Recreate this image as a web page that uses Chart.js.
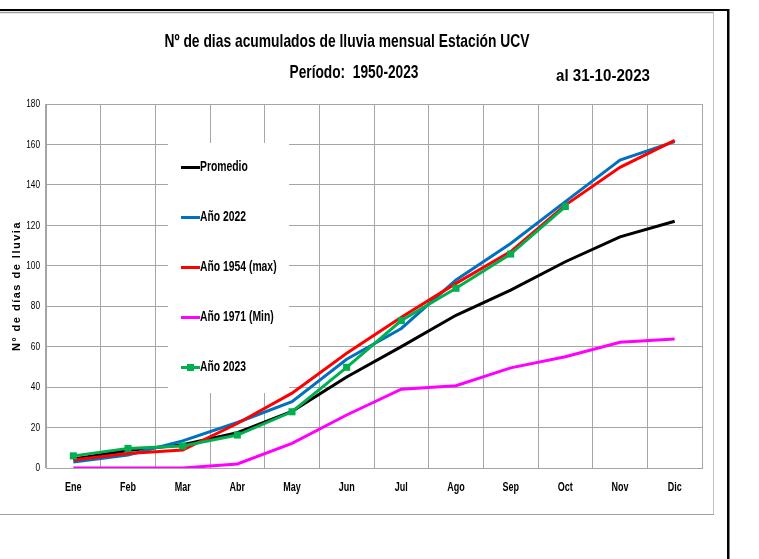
<!DOCTYPE html>
<html>
<head>
<meta charset="utf-8">
<title>Nº de dias acumulados de lluvia mensual Estación UCV</title>
<script src="https://cdn.jsdelivr.net/npm/chart.js@4.4.0/dist/chart.umd.min.js"></script>
<style>
    html, body { margin: 0; padding: 0; background: #fff; }
    #wrap { position: relative; width: 759px; height: 559px; }
</style>
</head>
<body>
<div id="wrap"><canvas id="rainChart" width="759" height="559"></canvas></div>
<script>
// Data
const months = ['Ene', 'Feb', 'Mar', 'Abr', 'May', 'Jun', 'Jul', 'Ago', 'Sep', 'Oct', 'Nov', 'Dic'];
const promedio = [4.5, 8.6, 11.5, 17.5, 28, 45, 60, 75.5, 88, 102, 114.3, 122];
const anio2022 = [3, 6.4, 13.4, 22.5, 32.8, 53.8, 69, 93, 111, 131.7, 152.3, 161.4];
const anio1954 = [4, 7.2, 8.9, 22, 37, 56.7, 74.5, 91.3, 107, 130, 148.7, 162];
const anio1971 = [0, 0, 0, 2, 12.2, 26.2, 39, 40.7, 49.5, 55, 62.2, 63.8];
const anio2023 = [6, 9.7, 10.9, 16.3, 27.8, 49.8, 72.9, 88.9, 105.8, 129.3];
const yTicks = { min: 0, max: 180, step: 20 };

const SANS = "'Liberation Sans', Arial, sans-serif";
const GRID = '#a6a6a6';

/**
 * Draws text squeezed horizontally (Calibri-like look).
 * If width is given the text is fitted to it, otherwise squeeze is used.
 */
function drawNarrow(ctx, text, x, y, font, align, width, squeeze = 0.75) {
    ctx.save();
    ctx.font = font;
    const measured = ctx.measureText(text).width;
    const s = width ? width / measured : squeeze;
    ctx.translate(x, y);
    ctx.scale(s, 1);
    ctx.textAlign = align;
    ctx.textBaseline = 'middle';
    ctx.fillText(text, 0, 0);
    ctx.restore();
}

/**
 * Draws frame lines, titles and axis labels.
 */
const framePlugin = {
    id: 'frame',
    beforeDraw(chart) {
        const ctx = chart.ctx;
        ctx.save();
        ctx.fillStyle = '#fff';
        ctx.fillRect(0, 0, chart.width, chart.height);
        // gray chart border
        ctx.strokeStyle = '#a0a0a0';
        ctx.lineWidth = 1.5;
        ctx.beginPath();
        ctx.moveTo(0, 12.5);
        ctx.lineTo(713.5, 12.5);
        ctx.stroke();
        ctx.lineWidth = 1;
        ctx.strokeStyle = '#c0c0c0';
        ctx.beginPath();
        ctx.moveTo(713.5, 12);
        ctx.lineTo(713.5, 514.5);
        ctx.stroke();
        ctx.strokeStyle = '#a0a0a0';
        ctx.beginPath();
        ctx.moveTo(0, 514.5);
        ctx.lineTo(714, 514.5);
        ctx.stroke();
        // black cell borders
        ctx.fillStyle = '#000';
        ctx.fillRect(0, 9, 729, 2);
        ctx.fillRect(727, 9, 2.5, chart.height - 9);
        ctx.restore();
    },
    afterDraw(chart) {
        const ctx = chart.ctx;
        ctx.save();
        ctx.fillStyle = '#000';
        drawNarrow(ctx, 'Nº de dias acumulados de lluvia mensual Estación UCV', 347, 42, 'bold 19px ' + SANS, 'center', 365);
        drawNarrow(ctx, 'Período:  1950-2023', 354, 73, 'bold 19px ' + SANS, 'center', 129);
        drawNarrow(ctx, 'al 31-10-2023', 556, 77, 'bold 16px ' + SANS, 'left', 94);

        // tick labels, placed by the chart scales
        const xs = chart.scales.x;
        const ys = chart.scales.y;
        xs.ticks.forEach((t, i) => {
            drawNarrow(ctx, xs.getLabelForValue(t.value), xs.getPixelForTick(i), 488, 'bold 12px ' + SANS, 'center', 0, 0.75);
        });
        ys.ticks.forEach((t, i) => {
            drawNarrow(ctx, String(t.value), 40, ys.getPixelForTick(i), '11.5px ' + SANS, 'right', 0, 0.72);
        });

        // rotated y axis title with wide letter spacing
        ctx.translate(17, 286);
        ctx.rotate(-Math.PI / 2);
        ctx.textAlign = 'center';
        ctx.textBaseline = 'middle';
        ctx.font = 'bold 11px ' + SANS;
        ctx.letterSpacing = '1.5px';
        ctx.fillText('Nº de días de lluvia', 0, 0);
        ctx.restore();
    }
};

/**
 * Draws the legend as a white box inside the plot area.
 */
const insideLegendPlugin = {
    id: 'insideLegend',
    beforeDatasetsDraw(chart) {
        const ctx = chart.ctx;
        ctx.save();
        ctx.fillStyle = '#fff';
        ctx.fillRect(168, 143, 121, 250);
        chart.data.datasets.forEach((ds, i) => {
            const y = 167.5 + i * 50;
            ctx.strokeStyle = ds.borderColor;
            ctx.lineWidth = 3;
            ctx.beginPath();
            ctx.moveTo(181, y);
            ctx.lineTo(200, y);
            ctx.stroke();
            if (ds.pointRadius > 0) {
                ctx.fillStyle = ds.borderColor;
                ctx.fillRect(187, y - 3.5, 7, 7);
            }
            ctx.fillStyle = '#000';
            drawNarrow(ctx, ds.label, 200, y, 'bold 14px ' + SANS, 'left', 0, 0.74);
        });
        ctx.restore();
    }
};

function lineSet(label, data, color, order, marker) {
    return {
        label: label,
        data: data,
        borderColor: color,
        backgroundColor: color,
        borderWidth: 3,
        tension: 0,
        fill: false,
        order: order,
        pointStyle: 'rect',
        pointRadius: marker ? 5 : 0,
        pointHoverRadius: marker ? 5 : 0,
        pointBorderWidth: 0
    };
}

document.addEventListener('DOMContentLoaded', function () {
    const ctx = document.getElementById('rainChart').getContext('2d');
    new Chart(ctx, {
        type: 'line',
        data: {
            labels: months,
            datasets: [
                lineSet('Promedio', promedio, '#000000', 5, false),
                lineSet('Año 2022', anio2022, '#0070C0', 4, false),
                lineSet('Año 1954 (max)', anio1954, '#FF0000', 3, false),
                lineSet('Año 1971 (Min)', anio1971, '#FF00FF', 2, false),
                lineSet('Año 2023', anio2023, '#00B050', 1, true)
            ]
        },
        options: {
            responsive: false,
            animation: false,
            layout: { padding: { top: 104, right: 57, left: 0, bottom: 0 } },
            plugins: {
                legend: { display: false },
                title: { display: false },
                tooltip: { enabled: false }
            },
            scales: {
                x: {
                    offset: true,
                    grid: { offset: true, color: GRID, lineWidth: 1, drawTicks: false },
                    border: { color: GRID, width: 1 },
                    ticks: { display: false, autoSkip: false, maxRotation: 0 },
                    afterFit: scale => { scale.height = 91; }
                },
                y: {
                    min: yTicks.min,
                    max: yTicks.max,
                    grid: { color: GRID, lineWidth: 1, drawTicks: false },
                    border: { color: GRID, width: 1 },
                    ticks: { display: false, stepSize: yTicks.step },
                    afterFit: scale => { scale.width = 46; }
                }
            }
        },
        plugins: [framePlugin, insideLegendPlugin]
    });
});
</script>
</body>
</html>
